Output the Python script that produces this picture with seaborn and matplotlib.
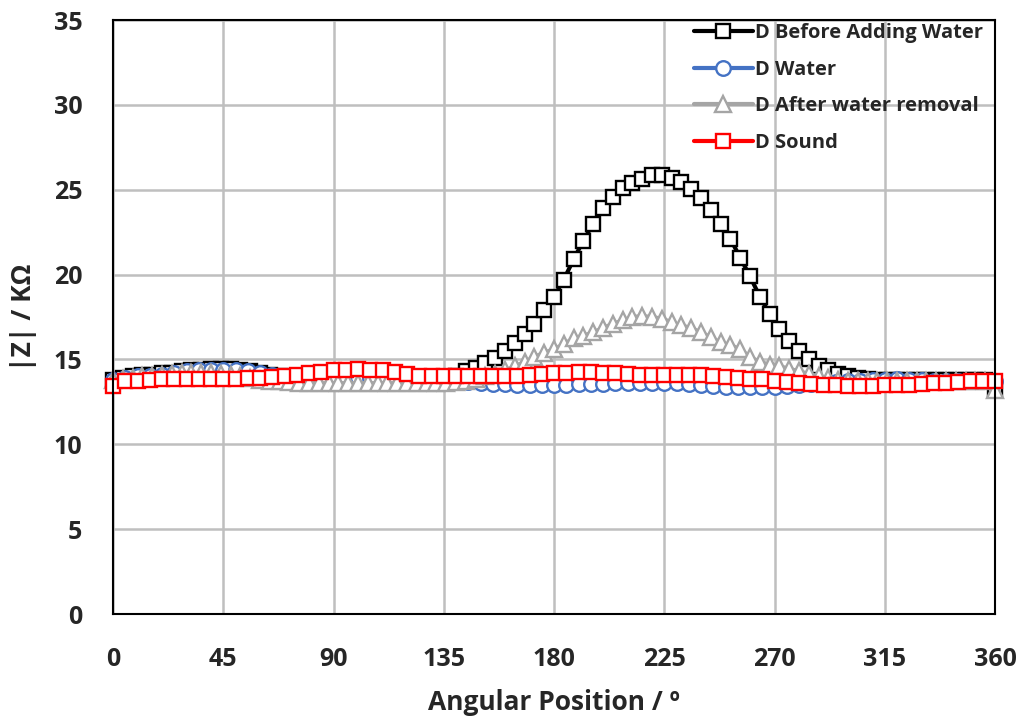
import numpy as np
import pandas as pd
import matplotlib
matplotlib.use("Agg")
import matplotlib.pyplot as plt
import seaborn as sns

# ---------------- data ----------------
before_deg = np.arange(0, 361, 4)
before_val = [13.8, 13.9, 14.0, 14.1, 14.1, 14.2, 14.2, 14.3, 14.35, 14.4,
              14.45, 14.45, 14.45, 14.4, 14.3, 14.2, 14.1, 14.0, 13.95, 13.9,
              13.9, 13.9, 13.9, 13.9, 13.9, 13.9, 13.9, 13.9, 13.9, 13.9,
              13.9, 13.9, 13.9, 13.95, 13.95, 14.0, 14.3, 14.5, 14.8, 15.1,
              15.5, 15.95, 16.5, 17.1, 17.9, 18.7, 19.7, 20.9, 22.0, 23.0,
              23.9, 24.6, 25.1, 25.4, 25.65, 25.85, 25.85, 25.7, 25.45, 25.05,
              24.5, 23.8, 23.0, 22.1, 21.0, 19.9, 18.7, 17.7, 16.8, 16.1,
              15.5, 15.0, 14.6, 14.35, 14.15, 14.0, 13.9, 13.85, 13.8, 13.8,
              13.8, 13.8, 13.8, 13.8, 13.8, 13.8, 13.8, 13.8, 13.8, 13.8,
              13.2]

after_deg = np.arange(0, 361, 4)
after_val = [13.8, 13.85, 13.9, 14.0, 14.05, 14.1, 14.15, 14.2, 14.2, 14.2,
             14.2, 14.15, 14.1, 14.0, 13.9, 13.8, 13.75, 13.7, 13.65, 13.6,
             13.6, 13.6, 13.6, 13.6, 13.6, 13.6, 13.6, 13.6, 13.6, 13.6,
             13.6, 13.6, 13.6, 13.6, 13.6, 13.65, 13.75, 13.85, 14.0, 14.15,
             14.35, 14.6, 14.85, 15.15, 15.4, 15.6, 15.9, 16.25, 16.4, 16.6,
             16.85, 17.1, 17.3, 17.5, 17.55, 17.5, 17.4, 17.2, 17.0, 16.85,
             16.6, 16.3, 16.0, 15.85, 15.6, 15.15, 14.85, 14.7, 14.6, 14.45,
             14.3, 14.15, 14.0, 13.9, 13.8, 13.75, 13.75, 13.75, 13.75, 13.75,
             13.75, 13.75, 13.7, 13.7, 13.7, 13.7, 13.7, 13.7, 13.7, 13.7,
             13.2]

water_deg = np.arange(0, 361, 5)
water_val = [13.8, 13.9, 14.0, 14.05, 14.1, 14.2, 14.3, 14.35, 14.4, 14.4,
             14.4, 14.3, 14.2, 14.1, 14.0, 13.95, 13.9, 13.9, 13.9, 13.9,
             13.9, 13.9, 13.85, 13.85, 13.8, 13.8, 13.8, 13.75, 13.7, 13.65,
             13.6, 13.55, 13.55, 13.5, 13.5, 13.5, 13.5, 13.5, 13.55, 13.55,
             13.55, 13.6, 13.6, 13.6, 13.6, 13.6, 13.6, 13.55, 13.5, 13.45,
             13.4, 13.4, 13.35, 13.35, 13.4, 13.45, 13.5, 13.55, 13.6, 13.65,
             13.7, 13.75, 13.8, 13.8, 13.85, 13.8, 13.8, 13.75, 13.7, 13.7,
             13.7, 13.7, 13.7]

sound_deg = np.concatenate([[0], np.arange(0, 361, 5)])
sound_val = [13.1,
             13.8, 13.75, 13.75, 13.8, 13.85, 13.85, 13.85, 13.85, 13.85, 13.85,
             13.85, 13.9, 13.9, 13.95, 14.0, 14.1, 14.2, 14.25, 14.35, 14.4,
             14.45, 14.4, 14.35, 14.25, 14.15, 14.05, 14.0, 14.0, 14.0, 14.0,
             14.0, 14.0, 14.0, 14.05, 14.1, 14.15, 14.2, 14.2, 14.25, 14.25,
             14.2, 14.2, 14.15, 14.1, 14.1, 14.1, 14.1, 14.1, 14.1, 14.05,
             13.95, 13.9, 13.85, 13.85, 13.75, 13.65, 13.6, 13.55, 13.5, 13.5,
             13.45, 13.45, 13.45, 13.5, 13.5, 13.5, 13.55, 13.6, 13.6, 13.65,
             13.7, 13.7, 13.7]

series_names = ["D Before Adding Water", "D Water", "D After water removal", "D Sound"]
x_ticks = [0, 45, 90, 135, 180, 225, 270, 315, 360]
y_ticks = [0, 5, 10, 15, 20, 25, 30, 35]

# ---------------- plot ----------------
sns.set_theme(style="white")
plt.rcParams['font.family'] = ['Open Sans', 'DejaVu Sans']

fig = plt.figure(figsize=(10.23, 7.21), dpi=100)
ax = fig.add_axes([113/1023, 1-614/721, (995-113)/1023, (614-20)/721])

styles = [
    (before_deg, before_val, "#000000", "s"),
    (water_deg, water_val, "#4472C4", "o"),
    (after_deg, after_val, "#A5A5A5", "^"),
    (sound_deg, sound_val, "#FF0000", "s"),
]
for name, (xd, yd, col, mk) in zip(series_names, styles):
    df = pd.DataFrame({"x": xd, "y": yd})
    sns.lineplot(data=df, x="x", y="y", ax=ax, sort=False, color=col,
                 linewidth=3.0, marker=mk, markersize=10.5 if mk != "^" else 11,
                 markerfacecolor="white", markeredgecolor=col,
                 markeredgewidth=1.7, label=name, clip_on=False)

ax.set_xlim(0, 360)
ax.set_ylim(0, 35)
ax.set_xticks(x_ticks)
ax.set_yticks(y_ticks)
ax.grid(True, color="#BFBFBF", linewidth=1.8)
ax.set_axisbelow(True)
for s in ax.spines.values():
    s.set_color("black")
    s.set_linewidth(1.5)
ax.tick_params(axis="both", length=0, labelsize=18)
ax.tick_params(axis="x", pad=24)
ax.tick_params(axis="y", pad=22)
for lab in ax.get_xticklabels() + ax.get_yticklabels():
    lab.set_fontweight("bold")

ax.set_xlabel("Angular Position / º", fontsize=19, fontweight="bold", labelpad=12)
ax.set_ylabel("|Z| / KΩ", fontsize=19, fontweight="bold", labelpad=12)

leg = ax.legend(loc="upper right", frameon=False, fontsize=14.5,
                handlelength=2.9, handletextpad=0.1, labelspacing=0.82,
                borderaxespad=0.0, bbox_to_anchor=(0.995, 1.008))
for t in leg.get_texts():
    t.set_fontweight("bold")

fig.savefig("out.png", dpi=100)
